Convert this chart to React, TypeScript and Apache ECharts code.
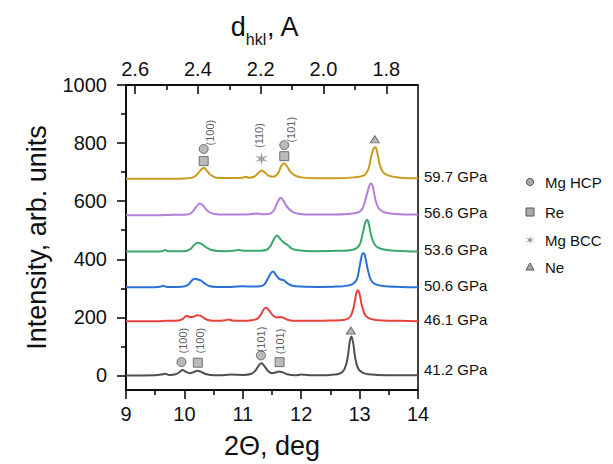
import React, { useEffect, useRef } from "react";
import * as echarts from "echarts";

// ---- data ----
const pressures = ["41.2 GPa", "46.1 GPa", "50.6 GPa", "53.6 GPa", "56.6 GPa", "59.7 GPa"];
const colors = ["#4f4f4f", "#e8423d", "#2b6fd8", "#3ba76b", "#b27fdc", "#c99b1d"];

const p412 = [[9.0,0],[9.5,1],[9.6,3],[9.67,6],[9.74,2],[9.85,4],[9.92,12],[9.97,19],[10.03,12],[10.1,8],[10.15,11],[10.22,16],[10.28,13],[10.35,6],[10.45,2],[10.6,1],[10.8,3],[11.0,2],[11.15,6],[11.22,18],[11.28,36],[11.32,42],[11.37,32],[11.44,14],[11.5,8],[11.56,10],[11.62,14],[11.68,11],[11.76,4],[11.9,1],[12.0,3],[12.2,1],[12.5,2],[12.65,6],[12.73,18],[12.79,55],[12.83,115],[12.86,134],[12.89,112],[12.93,55],[12.98,22],[13.05,10],[13.15,4],[13.3,2],[13.6,1],[14.0,1]];
const p461 = [[9.0,187],[9.5,187],[9.7,188],[9.9,189],[9.98,196],[10.04,206],[10.1,201],[10.15,202],[10.22,207],[10.27,206],[10.34,197],[10.42,190],[10.55,188],[10.7,190],[10.76,193],[10.82,189],[11.0,188],[11.15,190],[11.25,196],[11.31,210],[11.36,228],[11.4,233],[11.45,224],[11.52,206],[11.58,200],[11.65,201],[11.7,198],[11.78,191],[11.9,188],[12.2,188],[12.5,189],[12.75,192],[12.84,202],[12.9,236],[12.94,280],[12.97,293],[13.0,280],[13.04,240],[13.09,210],[13.15,198],[13.25,192],[13.4,189],[13.7,188],[14.0,187]];
const p506 = [[9.0,304],[9.5,304],[9.6,306],[9.64,309],[9.7,305],[9.9,305],[10.05,310],[10.12,325],[10.17,333],[10.22,331],[10.28,327],[10.34,318],[10.42,308],[10.55,305],[10.8,305],[11.0,307],[11.2,306],[11.35,310],[11.42,330],[11.48,352],[11.52,358],[11.57,345],[11.63,332],[11.7,328],[11.76,318],[11.85,309],[12.0,306],[12.3,305],[12.6,306],[12.85,312],[12.95,330],[13.0,375],[13.04,415],[13.07,422],[13.1,405],[13.14,365],[13.19,330],[13.26,315],[13.4,308],[13.7,305],[14.0,304]];
const p536 = [[9.0,427],[9.5,427],[9.62,428],[9.67,432],[9.72,428],[10.0,428],[10.1,435],[10.17,450],[10.23,457],[10.3,452],[10.38,440],[10.48,431],[10.7,428],[10.88,430],[10.93,433],[10.98,430],[11.2,429],[11.4,432],[11.48,448],[11.54,472],[11.59,482],[11.64,470],[11.7,458],[11.76,450],[11.84,437],[11.95,431],[12.2,428],[12.6,429],[12.9,434],[13.0,450],[13.06,495],[13.1,528],[13.13,536],[13.16,520],[13.2,480],[13.26,450],[13.35,437],[13.5,431],[13.8,428],[14.0,427]];
const p566 = [[9.0,552],[9.5,552],[9.8,553],[10.05,554],[10.13,562],[10.2,580],[10.26,592],[10.32,585],[10.38,570],[10.45,560],[10.55,555],[10.8,554],[11.0,554],[11.15,556],[11.24,558],[11.32,555],[11.45,556],[11.53,568],[11.6,598],[11.65,612],[11.7,600],[11.76,580],[11.84,565],[11.95,557],[12.2,554],[12.6,554],[12.95,560],[13.05,575],[13.12,620],[13.17,655],[13.2,661],[13.23,648],[13.27,605],[13.33,575],[13.42,562],[13.6,556],[14.0,554]];
const p597 = [[9.0,677],[9.5,677],[10.0,678],[10.15,682],[10.23,695],[10.3,712],[10.34,714],[10.39,703],[10.45,690],[10.55,681],[10.8,680],[11.0,681],[11.05,684],[11.1,681],[11.2,685],[11.27,698],[11.32,706],[11.37,700],[11.44,688],[11.52,684],[11.6,695],[11.66,722],[11.7,731],[11.75,722],[11.82,700],[11.9,688],[12.0,682],[12.3,679],[12.6,679],[12.9,682],[13.08,690],[13.15,710],[13.2,755],[13.24,782],[13.27,786],[13.3,770],[13.34,730],[13.4,700],[13.5,688],[13.7,681],[14.0,679]];
const traces = [p412, p461, p506, p536, p566, p597];

// phase markers [2θ, intensity]
const mgHcpPts = [[10.33,780],[11.71,793],[9.95,46],[11.31,69]];
const rePts = [[10.33,738],[11.71,755],[10.23,44],[11.63,46]];
const mgBccPts = [[11.32,746]];
const nePts = [[13.26,813],[12.85,155]];

// reflection labels [2θ, intensity, text]
const hklLabels = [
  [10.44, 836, "(100)"], [11.28, 826, "(110)"], [11.83, 846, "(101)"],
  [9.97, 120, "(100)"], [10.26, 120, "(100)"], [11.32, 124, "(101)"], [11.64, 117, "(101)"],
];

const xTicks = [9, 10, 11, 12, 13, 14];
const xMinorTicks = [9.5, 10.5, 11.5, 12.5, 13.5];
const yTicks = [0, 200, 400, 600, 800, 1000];
const yMinorTicks = [100, 300, 500, 700, 900];
const dTicks = [2.6, 2.4, 2.2, 2.0, 1.8];
const dMinorTicks = [2.5, 2.3, 2.1, 1.9];
const dRange = [1.699, 2.629];

const legendNames = ["Mg HCP", "Re", "Mg BCC", "Ne"];

const FONT = 'Arial, "Liberation Sans", sans-serif';
const STAR = "path://M0,-10L1.5,-2.6L8.66,-5L3,0L8.66,5L1.5,2.6L0,10L-1.5,2.6L-8.66,5L-3,0L-8.66,-5L-1.5,-2.6Z";

export default function App() {
  const ref = useRef<HTMLDivElement>(null);
  useEffect(() => {
    if (!ref.current) return;
    const chart = echarts.init(ref.current, undefined, { renderer: "svg" });
    const axisLine = { show: true, onZero: false, lineStyle: { color: "#000", width: 1.5 } };
    const noLine = { show: false, onZero: false };
    const tickStyle = { color: "#000", width: 1.5 };
    const markerStyle = { color: "#a9a9a9", borderColor: "#555", borderWidth: 1 };

    const lineSeries = traces.map((t, i) => ({
      type: "line",
      name: pressures[i],
      data: t,
      xAxisIndex: 0,
      yAxisIndex: 0,
      smooth: 0.35,
      showSymbol: false,
      symbol: "none",
      lineStyle: { color: colors[i], width: 2 },
      endLabel: {
        show: true,
        formatter: pressures[i],
        color: "#111",
        fontSize: 15,
        fontFamily: FONT,
        distance: 6,
        offset: [0, i === 0 ? -6 : -2],
      },
      z: 2,
    }));

    const legendY = [182, 212, 240, 267];
    const lx = 530;
    const graphics: any[] = [
      { type: "circle", shape: { cx: lx, cy: legendY[0], r: 3.6 }, style: { fill: "#a9a9a9", stroke: "#555", lineWidth: 1 } },
      { type: "rect", shape: { x: lx - 4, y: legendY[1] - 4, width: 8, height: 8 }, style: { fill: "#a9a9a9", stroke: "#555", lineWidth: 1 } },
      {
        type: "polygon",
        shape: { points: [[0,-5],[0.6,-1.04],[4.33,-2.5],[1.2,0],[4.33,2.5],[0.6,1.04],[0,5],[-0.6,1.04],[-4.33,2.5],[-1.2,0],[-4.33,-2.5],[-0.6,-1.04]].map(([a, b]) => [lx + a, legendY[2] + b]) },
        style: { fill: "#8a8a8a" },
      },
      { type: "polygon", shape: { points: [[lx, legendY[3] - 4], [lx + 4, legendY[3] + 3], [lx - 4, legendY[3] + 3]] }, style: { fill: "#a9a9a9", stroke: "#555", lineWidth: 1 } },
      ...legendNames.map((n, i) => ({
        type: "text",
        x: 545,
        y: legendY[i],
        style: { text: n, fontSize: 15, fontFamily: FONT, fill: "#111", verticalAlign: "middle", align: "left" },
      })),
    ];

    const plain = (v: number) => String(v);

    chart.setOption({
      animation: false,
      textStyle: { fontFamily: FONT },
      grid: { left: 126, right: 195, top: 85, bottom: 74, show: true, borderColor: "#000", borderWidth: 1.5 },
      xAxis: [
        {
          type: "value", position: "bottom", min: 9, max: 14,
          axisLine, splitLine: { show: false },
          axisTick: { show: true, length: 9, lineStyle: tickStyle, customValues: xTicks },
          axisLabel: { fontSize: 20, color: "#111", margin: 14, fontFamily: FONT, customValues: xTicks, formatter: plain },
          name: "2Θ, deg", nameLocation: "middle", nameGap: 42,
          nameTextStyle: { fontSize: 27, color: "#111", fontFamily: FONT },
        },
        {
          type: "value", position: "bottom", min: 9, max: 14,
          axisLine: noLine, splitLine: { show: false },
          axisTick: { show: true, length: 5, lineStyle: tickStyle, customValues: xMinorTicks },
          axisLabel: { show: false },
        },
        {
          type: "value", position: "top", min: dRange[0], max: dRange[1], inverse: true,
          axisLine, splitLine: { show: false },
          axisTick: { show: true, inside: true, length: 9, lineStyle: tickStyle, customValues: dTicks },
          axisLabel: { fontSize: 20, color: "#111", margin: 6, fontFamily: FONT, customValues: dTicks, formatter: (v: number) => v.toFixed(1) },
          name: "{d|d}{s|hkl}{d|, A}", nameLocation: "middle", nameGap: 38,
          nameTextStyle: {
            padding: [0, 14, 0, 0],
            rich: {
              d: { fontSize: 27, color: "#111", fontFamily: FONT, lineHeight: 34, verticalAlign: "top" },
              s: { fontSize: 16, color: "#111", fontFamily: FONT, lineHeight: 16, verticalAlign: "bottom" },
            },
          },
        },
        {
          type: "value", position: "top", min: dRange[0], max: dRange[1], inverse: true,
          axisLine: noLine, splitLine: { show: false },
          axisTick: { show: true, inside: true, length: 5, lineStyle: tickStyle, customValues: dMinorTicks },
          axisLabel: { show: false },
        },
      ],
      yAxis: [
        {
          type: "value", position: "left", min: -50, max: 1000,
          axisLine, splitLine: { show: false },
          axisTick: { show: true, length: 9, lineStyle: tickStyle, customValues: yTicks },
          axisLabel: { fontSize: 20, color: "#111", margin: 19, fontFamily: FONT, customValues: yTicks, formatter: plain },
          name: "Intensity, arb. units", nameLocation: "middle", nameGap: 76,
          nameTextStyle: { fontSize: 27, color: "#111", fontFamily: FONT },
        },
        {
          type: "value", position: "left", min: -50, max: 1000, offset: 0,
          axisLine: noLine, splitLine: { show: false },
          axisTick: { show: true, length: 5, lineStyle: tickStyle, customValues: yMinorTicks },
          axisLabel: { show: false },
        },
      ],
      series: [
        ...lineSeries,
        { type: "scatter", name: legendNames[0], data: mgHcpPts, symbol: "circle", symbolSize: 9, itemStyle: markerStyle, z: 5 },
        { type: "scatter", name: legendNames[1], data: rePts, symbol: "rect", symbolSize: 9, itemStyle: markerStyle, z: 5 },
        { type: "scatter", name: legendNames[2], data: mgBccPts, symbol: STAR, symbolSize: 13, itemStyle: { color: "#8a8a8a" }, z: 5 },
        { type: "scatter", name: legendNames[3], data: nePts, symbol: "triangle", symbolSize: [9, 7], itemStyle: markerStyle, z: 5 },
        {
          type: "scatter",
          name: "hkl",
          data: hklLabels.map((h) => ({ value: [h[0], h[1]], name: h[2] })),
          symbolSize: 0,
          label: { show: true, position: "inside", rotate: 90, formatter: "{b}", fontSize: 11, color: "#333", fontFamily: FONT },
          z: 5,
        },
      ],
      graphic: graphics,
    });
    return () => chart.dispose();
  }, []);
  return <div ref={ref} style={{ position: "fixed", left: 0, top: 0, width: 613, height: 464, background: "#fff" }} />;
}
